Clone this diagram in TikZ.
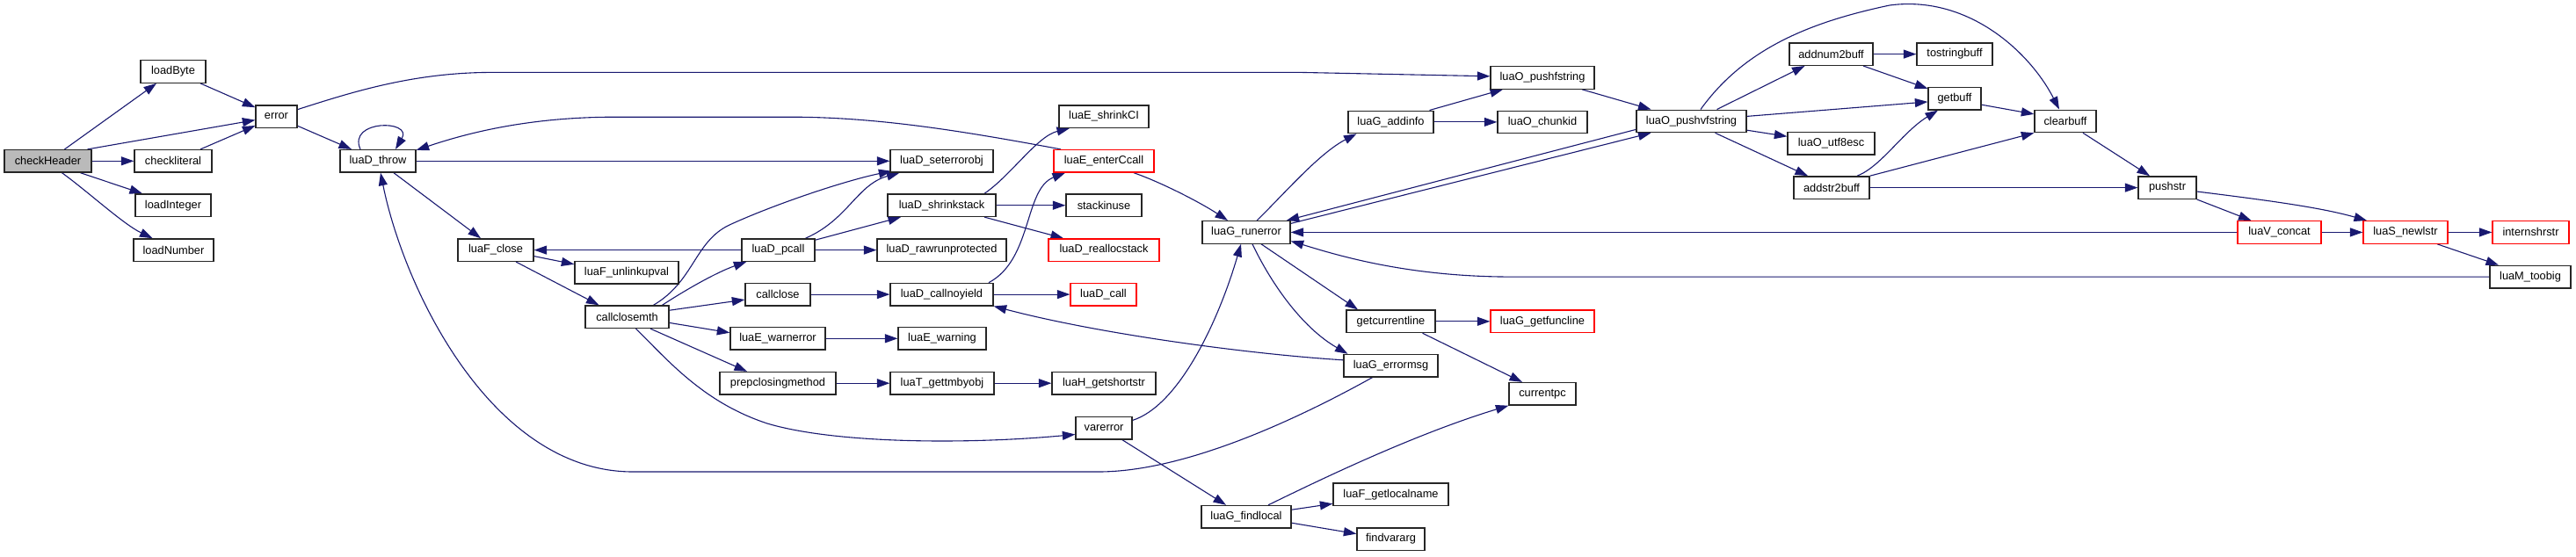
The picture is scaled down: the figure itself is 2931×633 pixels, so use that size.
\documentclass[tikz,border=0pt]{standalone}
\usepackage{fontspec}
\setmainfont{Liberation Sans}
\usetikzlibrary{arrows.meta}
\definecolor{MB}{HTML}{191970}
\pgfdeclarelayer{bg}
\pgfsetlayers{bg,main}
\begin{document}
\begin{tikzpicture}[x=1pt,y=-1pt,
  nd/.style={draw=black!85, line width=1.3pt, fill=white, minimum height=25.5pt, inner sep=0pt, font=\fontsize{12.8}{15}\selectfont},
  rd/.style={nd, draw=red},
  hl/.style={nd, fill=black!27},
  e/.style={draw=MB, line width=1.1pt, -{Triangle[length=14.5pt,width=10pt]}}]
\useasboundingbox (0,0) rectangle (2931,633);
% nodes
\node[hl, minimum width=99pt] (checkHeader) at (54.5,183.3) {checkHeader};
\node[nd, minimum width=74pt] (loadByte) at (197,81.5) {loadByte};
\node[nd, minimum width=47pt] (error) at (314.5,132.6) {error};
\node[nd, minimum width=88pt] (checkliteral) at (197,183.3) {checkliteral};
\node[nd, minimum width=86pt] (loadInteger) at (197,233.7) {loadInteger};
\node[nd, minimum width=91pt] (loadNumber) at (197.5,284.6) {loadNumber};
\node[nd, minimum width=86pt] (luaD_throw) at (430,183.3) {luaD\_throw};
\node[nd, minimum width=86pt] (luaF_close) at (564,284.6) {luaF\_close};
\node[nd, minimum width=118pt] (luaF_unlinkupval) at (713,310.2) {luaF\_unlinkupval};
\node[nd, minimum width=95pt] (callclosemth) at (713.5,360.7) {callclosemth};
\node[nd, minimum width=117pt] (luaD_seterrorobj) at (1071.5,183.3) {luaD\_seterrorobj};
\node[nd, minimum width=123pt] (luaD_shrinkstack) at (1071.5,233.7) {luaD\_shrinkstack};
\node[nd, minimum width=83pt] (luaD_pcall) at (885.5,284.6) {luaD\_pcall};
\node[nd, minimum width=147pt] (luaD_rawrunprotected) at (1071.5,284.6) {luaD\_rawrunprotected};
\node[nd, minimum width=74pt] (callclose) at (885,335.1) {callclose};
\node[nd, minimum width=117pt] (luaD_callnoyield) at (1071.5,335.1) {luaD\_callnoyield};
\node[nd, minimum width=108pt] (luaE_warnerror) at (885,385.3) {luaE\_warnerror};
\node[nd, minimum width=100pt] (luaE_warning) at (1072,385.3) {luaE\_warning};
\node[nd, minimum width=132pt] (prepclosingmethod) at (885,436.2) {prepclosingmethod};
\node[nd, minimum width=118pt] (luaT_gettmbyobj) at (1072,436.2) {luaT\_gettmbyobj};
\node[nd, minimum width=102pt] (luaE_shrinkCI) at (1256,132.6) {luaE\_shrinkCI};
\node[rd, minimum width=114pt] (luaE_enterCcall) at (1256,183.3) {luaE\_enterCcall};
\node[nd, minimum width=86pt] (stackinuse) at (1256,233.7) {stackinuse};
\node[rd, minimum width=126pt] (luaD_reallocstack) at (1256,284.6) {luaD\_reallocstack};
\node[rd, minimum width=75pt] (luaD_call) at (1255.5,335.1) {luaD\_call};
\node[nd, minimum width=118pt] (luaH_getshortstr) at (1256,436.2) {luaH\_getshortstr};
\node[nd, minimum width=64pt] (varerror) at (1256,487.1) {varerror};
\node[nd, minimum width=100pt] (luaG_runerror) at (1418,264.4) {luaG\_runerror};
\node[nd, minimum width=102pt] (luaG_findlocal) at (1418,588.2) {luaG\_findlocal};
\node[nd, minimum width=118pt] (luaO_pushfstring) at (1755,88.4) {luaO\_pushfstring};
\node[nd, minimum width=97pt] (luaG_addinfo) at (1582.5,138.9) {luaG\_addinfo};
\node[nd, minimum width=102pt] (luaO_chunkid) at (1755,138.9) {luaO\_chunkid};
\node[nd, minimum width=101pt] (getcurrentline) at (1582.5,365.8) {getcurrentline};
\node[rd, minimum width=118pt] (luaG_getfuncline) at (1755,365.8) {luaG\_getfuncline};
\node[nd, minimum width=107pt] (luaG_errormsg) at (1582.5,416.2) {luaG\_errormsg};
\node[nd, minimum width=76pt] (currentpc) at (1755,448.3) {currentpc};
\node[nd, minimum width=131pt] (luaF_getlocalname) at (1582.5,562.8) {luaF\_getlocalname};
\node[nd, minimum width=77pt] (findvararg) at (1582.5,613.6) {findvararg};
\node[nd, minimum width=125pt] (luaO_pushvfstring) at (1924.5,137.9) {luaO\_pushvfstring};
\node[nd, minimum width=95pt] (addnum2buff) at (2083.5,61.6) {addnum2buff};
\node[nd, minimum width=86pt] (tostringbuff) at (2224,61.6) {tostringbuff};
\node[nd, minimum width=60pt] (getbuff) at (2224,112.2) {getbuff};
\node[nd, minimum width=99pt] (luaO_utf8esc) at (2083.5,163.3) {luaO\_utf8esc};
\node[nd, minimum width=86pt] (addstr2buff) at (2084,213.6) {addstr2buff};
\node[nd, minimum width=70pt] (clearbuff) at (2350,137.9) {clearbuff};
\node[nd, minimum width=66pt] (pushstr) at (2466,213.6) {pushstr};
\node[rd, minimum width=95pt] (luaV_concat) at (2593.5,264.4) {luaV\_concat};
\node[rd, minimum width=96pt] (luaS_newlstr) at (2737,264.4) {luaS\_newlstr};
\node[rd, minimum width=87pt] (internshrstr) at (2879.5,264.4) {internshrstr};
\node[nd, minimum width=92pt] (luaM_toobig) at (2879,315.1) {luaM\_toobig};
% edges
\begin{pgfonlayer}{bg}
\fill[white] (0,0) rectangle (2931,633);
\draw[e] ([xshift=19pt]checkHeader.north) -- ([xshift=-19pt]loadByte.south);
\draw[e] ([xshift=45pt]checkHeader.north) -- ([yshift=-4pt]error.west);
\draw[e] (checkHeader.east) -- (checkliteral.west);
\draw[e] ([xshift=37pt]checkHeader.south) -- ([xshift=-35pt]loadInteger.north);
\draw[e] ([xshift=16pt]checkHeader.south) .. controls (100,218) and (140,255) .. ([xshift=-24pt]loadNumber.north);
\draw[e] ([xshift=31pt]loadByte.south) -- ([yshift=-3pt]error.north west);
\draw[e] ([xshift=31pt]checkliteral.north) -- ([yshift=3pt]error.south west);
\draw[e] ([yshift=8pt]error.east) .. controls (400,105) and (470,82.4) .. (560,82.4) -- (1480,82.4) -- ([yshift=1.6pt]luaO_pushfstring.west);
\draw[e] ([yshift=-10.7pt]error.east) -- ([xshift=-30pt]luaD_throw.north);
\draw[e] ([xshift=-20pt]luaD_throw.north) .. controls (395,136) and (470,136) .. ([xshift=20pt]luaD_throw.north);
\draw[e] (luaD_throw.east) -- (luaD_seterrorobj.west);
\draw[e] ([xshift=18pt]luaD_throw.south) -- ([xshift=-17pt]luaF_close.north);
\draw[e] ([yshift=-7pt]luaF_close.east) -- ([yshift=9.4pt]luaF_unlinkupval.west);
\draw[e] ([xshift=23pt]luaF_close.south) -- ([xshift=-32pt]callclosemth.north);
\draw[e] (luaD_pcall.west) -- (luaF_close.east);
\draw[e] ([xshift=30pt]callclosemth.north) .. controls (790,320) and (790,275) .. (830,256) .. controls (880,233) and (960,206) .. ([xshift=2pt,yshift=2pt]luaD_seterrorobj.south west);
\draw[e] ([xshift=40pt]callclosemth.north) .. controls (780,330) and (815,310) .. ([xshift=6pt]luaD_pcall.south west);
\draw[e] ([yshift=7.5pt]callclosemth.east) -- ([yshift=-6pt]callclose.west);
\draw[e] ([yshift=-6.7pt]callclosemth.east) -- ([yshift=6.6pt]luaE_warnerror.west);
\draw[e] ([xshift=26.5pt]callclosemth.south) -- ([xshift=-35pt]prepclosingmethod.north);
\draw[e] ([xshift=10pt]callclosemth.south) .. controls (760,410) and (800,458) .. (873,482) .. controls (950,505) and (1100,506) .. ([yshift=-7.4pt]varerror.west);
\draw[e] ([xshift=31pt]luaD_pcall.north) .. controls (965,250) and (975,210) .. ([xshift=-48pt]luaD_seterrorobj.south);
\draw[e] ([yshift=-2pt]luaD_pcall.north east) -- ([xshift=-46.5pt]luaD_shrinkstack.south);
\draw[e] (luaD_pcall.east) -- (luaD_rawrunprotected.west);
\draw[e] (callclose.east) -- (luaD_callnoyield.west);
\draw[e] (luaE_warnerror.east) -- (luaE_warning.west);
\draw[e] (prepclosingmethod.east) -- (luaT_gettmbyobj.west);
\draw[e] (luaT_gettmbyobj.east) -- (luaH_getshortstr.west);
\draw[e] ([xshift=48.5pt]luaD_shrinkstack.north) .. controls (1150,200) and (1180,155) .. ([xshift=-39pt]luaE_shrinkCI.south);
\draw[e] (luaD_shrinkstack.east) -- (stackinuse.west);
\draw[e] ([xshift=48.5pt]luaD_shrinkstack.south) -- ([xshift=-46pt]luaD_reallocstack.north);
\draw[e] ([xshift=53.5pt]luaD_callnoyield.north) .. controls (1175,295) and (1165,215) .. ([xshift=-44pt]luaE_enterCcall.south);
\draw[e] (luaD_callnoyield.east) -- (luaD_call.west);
\draw[e] ([xshift=-49pt]luaE_enterCcall.north) .. controls (1100,150) and (1000,133.2) .. (900,133.2) -- (700,133.2) .. controls (600,133.2) and (530,152) .. ([yshift=-1pt]luaD_throw.north east);
\draw[e] ([xshift=34pt]luaE_enterCcall.south) .. controls (1320,207) and (1365,230) .. ([xshift=-21pt]luaG_runerror.north);
\draw[e] ([yshift=6.4pt]luaG_errormsg.west) .. controls (1420,403) and (1250,380) .. (luaD_callnoyield.south east);
\draw[e] ([xshift=-21pt]luaG_errormsg.south) .. controls (1480,475) and (1350,537) .. (1250,537) -- (720,537) .. controls (560,537) and (460,330) .. ([xshift=3pt]luaD_throw.south);
\draw[e] ([yshift=8.7pt]varerror.east) .. controls (1340,462) and (1385,370) .. ([xshift=-6pt]luaG_runerror.south);
\draw[e] ([xshift=20.7pt]varerror.south) -- ([xshift=-23pt]luaG_findlocal.north);
\draw[e] ([xshift=12pt]luaG_runerror.north) .. controls (1460,222) and (1500,175) .. ([xshift=-39pt]luaG_addinfo.south);
\draw[e] ([yshift=-9.5pt]luaO_pushvfstring.west) -- ([xshift=-5pt]luaG_runerror.north east);
\draw[e] ([yshift=10pt]luaG_runerror.east) -- ([xshift=-46pt]luaO_pushvfstring.south);
\draw[e] (luaV_concat.west) -- (luaG_runerror.east);
\draw[e] (luaM_toobig.west) -- (1720,315.1) .. controls (1600,315.1) and (1520,290) .. ([yshift=-10pt]luaG_runerror.east);
\draw[e] ([xshift=17pt]luaG_runerror.south) -- ([xshift=-37.5pt]getcurrentline.north);
\draw[e] ([xshift=7pt]luaG_runerror.south) .. controls (1445,320) and (1480,372) .. ([xshift=-49pt]luaG_errormsg.north);
\draw[e] ([xshift=44pt]luaG_addinfo.north) -- ([xshift=-45pt]luaO_pushfstring.south);
\draw[e] (luaG_addinfo.east) -- (luaO_chunkid.west);
\draw[e] ([xshift=45pt]luaO_pushfstring.south) -- ([xshift=-46pt]luaO_pushvfstring.north);
\draw[e] (getcurrentline.east) -- (luaG_getfuncline.west);
\draw[e] ([xshift=36pt]getcurrentline.south) -- ([xshift=-23pt]currentpc.north);
\draw[e] ([xshift=25pt]luaG_findlocal.north) .. controls (1480,557) and (1600,497) .. (currentpc.south west);
\draw[e] ([yshift=8pt]luaG_findlocal.east) -- ([yshift=-10.5pt]luaF_getlocalname.west);
\draw[e] ([yshift=-7pt]luaG_findlocal.east) -- ([yshift=6pt]findvararg.west);
\draw[e] ([xshift=10.5pt]luaO_pushvfstring.north) .. controls (1985,55) and (2060,25) .. (2150,6) .. controls (2240,-6) and (2310,60) .. ([xshift=-7pt]clearbuff.north);
\draw[e] ([xshift=29pt]luaO_pushvfstring.north) -- ([xshift=-30pt]addnum2buff.south);
\draw[e] ([yshift=5.5pt]luaO_pushvfstring.east) -- ([yshift=-3.7pt]getbuff.west);
\draw[e] ([yshift=-10.3pt]luaO_pushvfstring.east) -- ([yshift=8pt]luaO_utf8esc.west);
\draw[e] ([xshift=27pt]luaO_pushvfstring.south) -- ([xshift=-27pt]addstr2buff.north);
\draw[e] (addnum2buff.east) -- (tostringbuff.west);
\draw[e] ([xshift=36.5pt]addnum2buff.south) -- ([yshift=-2pt]getbuff.north west);
\draw[e] ([xshift=29pt]addstr2buff.north) .. controls (2140,190) and (2165,150) .. ([xshift=-19pt]getbuff.south);
\draw[e] (addstr2buff.north east) -- (clearbuff.south west);
\draw[e] (addstr2buff.east) -- (pushstr.west);
\draw[e] ([yshift=-7pt]getbuff.east) -- ([yshift=8pt]clearbuff.west);
\draw[e] ([xshift=20pt]clearbuff.south) -- ([xshift=-20pt]pushstr.north);
\draw[e] (pushstr.south east) -- ([xshift=-32pt]luaV_concat.north);
\draw[e] ([yshift=-4.4pt]pushstr.east) .. controls (2580,228) and (2640,236) .. ([xshift=-44pt]luaS_newlstr.north);
\draw[e] (luaV_concat.east) -- (luaS_newlstr.west);
\draw[e] (luaS_newlstr.east) -- (internshrstr.west);
\draw[e] ([xshift=36pt]luaS_newlstr.south) -- ([xshift=-36pt]luaM_toobig.north);
\end{pgfonlayer}
\end{tikzpicture}
\end{document}
